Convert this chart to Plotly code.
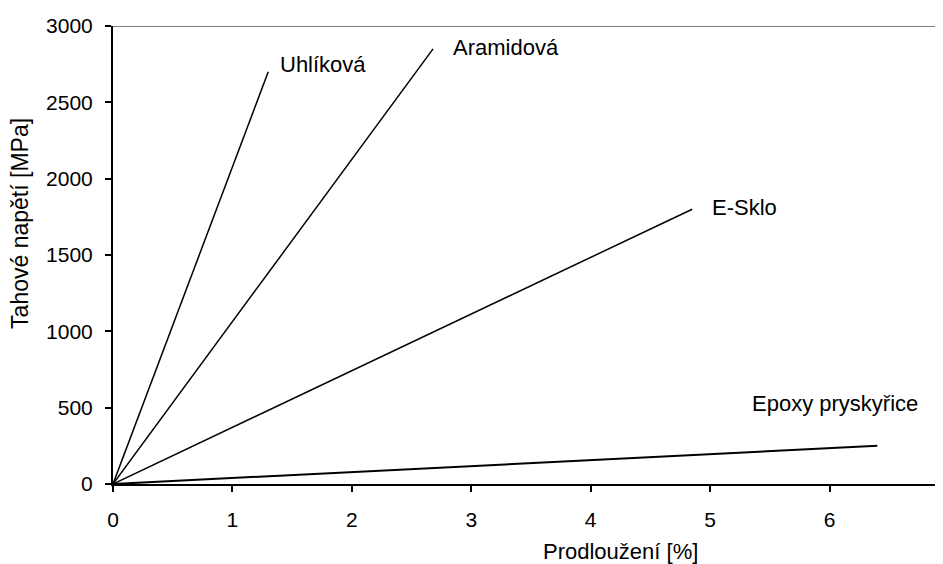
import plotly.graph_objects as go

# Data
materials = ["Uhlíková", "Aramidová", "E-Sklo", "Epoxy pryskyřice"]
strain_end = [1.3, 2.68, 4.85, 6.4]      # Prodloužení [%]
stress_end = [2700, 2850, 1800, 250]     # Tahové napětí [MPa]
label_x = [1.38, 2.83, 5.0, 5.33]
label_y = [2750, 2862, 1814, 530]
x_ticks = [0, 1, 2, 3, 4, 5, 6, 7]
y_ticks = [0, 500, 1000, 1500, 2000, 2500, 3000]

FONT = "Liberation Sans, Arial, sans-serif"

fig = go.Figure()
for name, xe, ye in zip(materials, strain_end, stress_end):
    fig.add_trace(go.Scatter(
        x=[0, xe], y=[0, ye], mode="lines", name=name,
        line=dict(color="black", width=1.5 if name != "Epoxy pryskyřice" else 2),
        showlegend=False, hoverinfo="skip"))

for name, lx, ly in zip(materials, label_x, label_y):
    fig.add_annotation(x=lx, y=ly, text=name, showarrow=False,
                       xanchor="left", yanchor="middle",
                       font=dict(family=FONT, size=22, color="black"))

# axis titles
fig.add_annotation(xref="paper", yref="paper", x=0.612, y=-0.148,
                   text="Prodloužení [%]", showarrow=False, xanchor="center",
                   yanchor="middle", font=dict(family=FONT, size=22, color="black"))
fig.add_annotation(xref="paper", yref="paper", x=-0.112, y=0.568,
                   text="Tahové napětí [MPa]", showarrow=False, textangle=-90,
                   xanchor="center", yanchor="middle",
                   font=dict(family=FONT, size=23, color="black"))

# gray top border
fig.add_shape(type="line", xref="paper", yref="y", x0=0, x1=1, y0=3000, y1=3000,
              line=dict(color="#808080", width=2))

fig.update_layout(
    width=935, height=556,
    margin=dict(l=105, r=0, t=18, b=80),
    paper_bgcolor="white", plot_bgcolor="white",
    font=dict(family=FONT, size=21, color="black"),
    xaxis=dict(range=[0, 6.95], tickvals=x_ticks, showgrid=False, zeroline=False,
               showline=True, linecolor="black", linewidth=2,
               ticks="outside", tickcolor="black", ticklen=6, tickwidth=2,
               ticklabelstandoff=10, tickfont=dict(family=FONT, size=21, color="black")),
    yaxis=dict(range=[0, 3000], tickvals=y_ticks, showgrid=False, zeroline=False,
               showline=True, linecolor="black", linewidth=2,
               ticks="outside", tickcolor="black", ticklen=6, tickwidth=2,
               ticklabelstandoff=8, tickfont=dict(family=FONT, size=21, color="black")),
)

fig.write_html("out.html")
